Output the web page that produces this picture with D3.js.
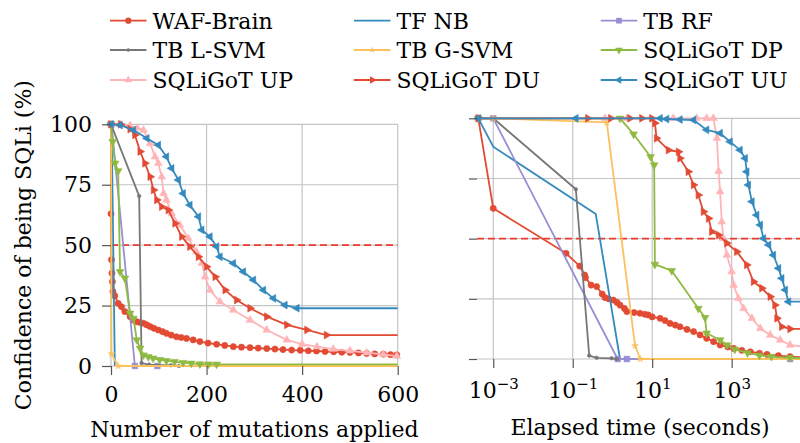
<!DOCTYPE html>
<html>
<head>
<meta charset="utf-8">
<script src="https://cdn.jsdelivr.net/npm/d3@7"></script>
<style>
  body { margin: 0; background: #fff; }
  svg { display: block; font-family: "DejaVu Serif", serif; }
</style>
</head>
<body>
<svg id="chart" width="800" height="443"></svg>
<script>
// Data: [mutations applied, confidence %]
const wafBrainByMutation = [[0,100],[0,63],[1,44],[2,38.4],[3,34.9],[4,30.8],[8,29],[15,25.9],[22,24.5],[29,22.5],[40,20.4],[47,19],[54,18.3],[61,18],[68,17.7],[75,17],[82,16.3],[90,15.6],[99,14.9],[108,14.2],[116,13.5],[126,12.8],[137,12.1],[147,11.8],[158,11.4],[172,10.8],[186,10.1],[203,9.5],[221,9],[238,8.5],[256,8],[273,7.8],[291,7.6],[308,7.4],[326,7.2],[343,7],[360,6.8],[378,6.6],[396,6.5],[413,6.3],[430,6.2],[448,6],[466,5.9],[483,5.7],[500,5.6],[518,5.4],[535,5.2],[552,5],[570,4.9],[585,4.7],[598,4.6]];
const tfNbByMutation = [[0,100],[2,88],[4,60],[8,0]];
const tbRfByMutation = [[0,100],[1,100],[50,0],[97,0]];
const tbLsvmByMutation = [[0,100],[59,70.3],[64,1.2],[80,0.6],[125,0.3],[142,0]];
const tbGsvmByMutation = [[0,100],[1,5],[15,0],[600,0]];
const sqligotDpByMutation = [[0,100],[3.5,92.8],[8.4,83.9],[15,80.7],[19,39],[29,36.3],[40,21.8],[47,19.7],[54,10.8],[61,7.3],[68,4.5],[78,3.8],[88,3.2],[102,2.6],[116,2.2],[133,1.8],[151,1.4],[168,1.1],[186,0.8],[204,0.75],[221,0.7],[600,0.7]];
const sqligotUpByMutation = [[0,100],[19,100],[40,99.5],[55,98.5],[68,97.6],[82,92.1],[92,86.6],[99,83.9],[106,78.3],[110,71.4],[116,68.7],[127,63.2],[144,58.3],[162,52.8],[179,47.3],[190,42.5],[197,36.9],[207,31.4],[228,26.6],[256,23.2],[291,19],[326,14.9],[368,10.8],[400,9],[431,8],[465,7],[500,6.3],[535,5.5],[570,4.8],[598,4.1]];
const sqligotDuByMutation = [[0,100],[20,100],[40,98],[50,95.6],[61,88.7],[71,83.9],[82,78.3],[89,72.8],[96,68.7],[106,65.9],[120,64.5],[134,59],[148,53.5],[165,49.4],[183,45.2],[200,41.1],[218,36.9],[239,31.4],[263,27.3],[291,23.9],[326,20.4],[368,17],[410,14.9],[451,12.8],[600,12.8]];
const sqligotUuByMutation = [[0,100],[19,99.7],[47,97.6],[75,94.2],[99,91.4],[116,86.6],[127,81.8],[141,77],[151,71.4],[165,66.6],[183,61.8],[190,56.3],[207,53.5],[221,49.4],[228,45.2],[256,42.5],[277,39],[298,35.6],[319,31.4],[340,28],[364,25.2],[389,23.9],[600,23.9]];

// Data: [elapsed seconds, confidence %]
const wafBrainByTime = [[0.00042,100],[0.001,62.6],[0.068,43.9],[0.15,38.6],[0.2,34.9],[0.21,33.8],[0.29,30.7],[0.4,30.1],[0.55,27],[0.65,25.5],[0.8,25],[1.05,24.5],[1.3,23.5],[1.55,22.4],[2,21],[2.3,19.7],[3.5,19.3],[4.9,19],[6.5,18.6],[7.9,18.3],[10,17.5],[15.8,16.9],[21,16],[28,14.8],[38,14.1],[50,13.4],[75,12.3],[110,11.4],[160,10],[234,8.6],[350,7.2],[513,5.8],[800,5],[1122,4.4],[1800,3.6],[2951,3],[5000,2.4],[7762,1.9],[15000,1.4],[29500,1],[65000,0.7]];
const tfNbByTime = [[0.00042,100],[0.001,88.2],[0.38,60.2],[1.55,0]];
const tbRfByTime = [[0.00042,100],[0.001,100],[1.35,0],[2.3,0],[29500,0]];
const tbLsvmByTime = [[0.00042,100],[0.001,100],[0.12,70.5],[0.26,1.4],[0.4,0.5],[0.95,0.3],[1.3,0]];
const tbGsvmByTime = [[0.00042,100],[0.001,100],[0.72,98.3],[3.7,5.5],[5,0],[65000,0]];
const sqligotDpByTime = [[0.00042,100],[1.55,100],[3.4,93.4],[9.1,84],[11.2,80.6],[11.7,39.3],[31,36.7],[145,21],[214,17.2],[234,10.7],[513,7.9],[759,5.8],[1200,4],[2500,2.5],[5000,1.5],[10000,1],[29500,0.5],[65000,0.5]];
const sqligotUpByTime = [[0.00042,100],[0.65,100],[2.3,100],[34,100],[132,100],[234,100],[347,100],[427,91.7],[468,78],[513,69.5],[562,57],[617,50.1],[759,43.2],[1000,36.3],[1122,30.7],[1479,25.2],[1995,21],[3236,16.9],[5248,12.7],[9333,10],[16600,7.9],[29500,5.8],[65000,5.1]];
const sqligotDuByTime = [[0.00042,100],[0.24,100],[0.91,100],[2.75,100],[5.5,100],[9.8,100],[11.7,98],[12.9,91.7],[25.7,86.8],[46,86.1],[50,83.4],[81,77.8],[110,72.3],[145,68.1],[195,61.2],[263,58.4],[316,52.9],[468,51.5],[759,48.1],[1349,44.6],[2399,39.1],[3548,32.1],[5754,29.4],[9333,25.9],[12300,22.4],[13800,16.9],[18200,13.4],[29500,12.5],[65000,12.5]];
const sqligotUuByTime = [[0.00042,100],[0.12,100],[15.8,100],[23,99.7],[50,99.5],[110,99.3],[234,95.2],[513,93.8],[912,90.3],[1622,86.8],[2188,83.4],[2399,77.8],[2630,72.3],[3236,65.4],[4266,59.8],[5248,55.7],[6310,50.1],[8511,47.4],[11220,43.2],[15140,37.7],[18200,33.5],[22400,28.7],[26900,23.8],[65000,23.8]];

const seriesNames = ["WAF-Brain", "TF NB", "TB RF", "TB L-SVM", "TB G-SVM", "SQLiGoT DP", "SQLiGoT UP", "SQLiGoT DU", "SQLiGoT UU"];
const mutationTicks = [0, 200, 400, 600];
const confidenceTicks = [0, 25, 50, 75, 100];
const timeTicks = [1e-3, 1e-1, 1e1, 1e3];
const timeTickExponents = ["\u22123", "\u22121", "1", "3"];
const threshold = 50;

// Styling for each series (ggplot colour cycle)
const seriesColors = ["#E24A33", "#348ABD", "#988ED5", "#777777", "#FBC15E", "#8EBA42", "#FFB5B8", "#E24A33", "#348ABD"];
const seriesMarkers = [
  { type: d3.symbolCircle, size: 30, rotate: 0 },
  null,
  { type: d3.symbolSquare, size: 32, rotate: 0 },
  { type: d3.symbolCircle, size: 10, rotate: 0 },
  { type: d3.symbolStar, size: 14, rotate: 0 },
  { type: d3.symbolTriangle, size: 26, rotate: 180 },
  { type: d3.symbolTriangle, size: 26, rotate: 0 },
  { type: d3.symbolTriangle, size: 26, rotate: 90 },
  { type: d3.symbolTriangle, size: 26, rotate: -90 },
];
const byMutation = [wafBrainByMutation, tfNbByMutation, tbRfByMutation, tbLsvmByMutation, tbGsvmByMutation, sqligotDpByMutation, sqligotUpByMutation, sqligotDuByMutation, sqligotUuByMutation];
const byTime = [wafBrainByTime, tfNbByTime, tbRfByTime, tbLsvmByTime, tbGsvmByTime, sqligotDpByTime, sqligotUpByTime, sqligotDuByTime, sqligotUuByTime];

const gridColor = "#c4c4c4";
const tickColor = "#555";
const fontSize = 22;
const fontFamily = "'DejaVu Serif', serif";

const svg = d3.select("#chart");

// Scales
const xMutation = d3.scaleLinear([0, 600], [111, 397.7]);
const yLeft = d3.scaleLinear([0, 100], [366, 124.3]);
const xTime = d3.scaleLog([3.9e-4, 6.5e4], [477, 803.7]);
const yRight = d3.scaleLinear([0, 100], [359, 118.3]);

function drawPanel(g, xScale, yScale, xTicks, data, xEnd) {
  const [x0, x1] = xScale.range();
  const [y0, y1] = yScale.range();

  // grid
  g.append("g")
    .selectAll("line")
    .data(confidenceTicks)
    .join("line")
    .attr("x1", x0).attr("x2", x1)
    .attr("y1", (d) => yScale(d)).attr("y2", (d) => yScale(d))
    .attr("stroke", gridColor).attr("stroke-width", 1.2);
  g.append("g")
    .selectAll("line")
    .data(xTicks)
    .join("line")
    .attr("x1", (d) => xScale(d)).attr("x2", (d) => xScale(d))
    .attr("y1", y0).attr("y2", y1)
    .attr("stroke", gridColor).attr("stroke-width", 1.2);

  // threshold
  g.append("line")
    .attr("x1", x0).attr("x2", x1)
    .attr("y1", yScale(threshold)).attr("y2", yScale(threshold))
    .attr("stroke", "#ee3b30").attr("stroke-width", 1.6)
    .attr("stroke-dasharray", "7,4");

  const line = d3.line().x((d) => xScale(d[0])).y((d) => yScale(d[1]));

  data.forEach((arr, i) => {
    g.append("path")
      .datum(arr)
      .attr("fill", "none")
      .attr("stroke", seriesColors[i])
      .attr("stroke-width", 1.8)
      .attr("stroke-linejoin", "round")
      .attr("d", line);
    const m = seriesMarkers[i];
    if (!m) return;
    const sym = d3.symbol(m.type, m.size);
    g.append("g")
      .selectAll("path")
      .data(arr.filter((d) => d[0] < xEnd))
      .join("path")
      .attr("d", sym)
      .attr("fill", seriesColors[i])
      .attr("stroke", seriesColors[i])
      .attr("stroke-width", 0.6)
      .attr("transform", (d) => `translate(${xScale(d[0])},${yScale(d[1])}) rotate(${m.rotate})`);
  });
}

function styleAxis(g) {
  g.call((s) => s.select(".domain").remove());
  g.selectAll(".tick line").attr("stroke", tickColor).attr("stroke-width", 1.2);
  g.selectAll(".tick text")
    .attr("fill", "#000")
    .style("font-size", `${fontSize}px`)
    .style("font-family", fontFamily);
}

// Left panel
const left = svg.append("g");
drawPanel(left, xMutation, yLeft, mutationTicks, byMutation, 600);

left.append("g")
  .attr("transform", `translate(${xMutation(0)},0)`)
  .call(d3.axisLeft(yLeft).tickValues(confidenceTicks).tickSize(9).tickPadding(10))
  .call(styleAxis);

left.append("g")
  .attr("transform", `translate(0,${yLeft(0)})`)
  .call(d3.axisBottom(xMutation).tickValues(mutationTicks).tickSize(9).tickPadding(11))
  .call(styleAxis);

left.append("text")
  .attr("x", (xMutation.range()[0] + xMutation.range()[1]) / 2)
  .attr("y", 437)
  .attr("text-anchor", "middle")
  .style("font-size", `${fontSize}px`)
  .text("Number of mutations applied");

svg.append("text")
  .attr("transform", `translate(31,${(yLeft(0) + yLeft(100)) / 2}) rotate(-90)`)
  .attr("text-anchor", "middle")
  .style("font-size", `${fontSize}px`)
  .text("Confidence of being SQLi (%)");

// Right panel
const right = svg.append("g");
drawPanel(right, xTime, yRight, timeTicks, byTime, 60000);

right.append("g")
  .attr("transform", `translate(${xTime.range()[0]},0)`)
  .call(d3.axisLeft(yRight).tickValues(confidenceTicks).tickSize(8).tickFormat(""))
  .call(styleAxis);

const rightX = right.append("g")
  .attr("transform", `translate(0,${yRight(0)})`)
  .call(d3.axisBottom(xTime).tickValues(timeTicks).tickSize(9).tickFormat(""))
  .call(styleAxis);

rightX.selectAll(".tick")
  .append("text")
  .attr("y", 39)
  .attr("text-anchor", "middle")
  .attr("fill", "#000")
  .style("font-size", `${fontSize}px`)
  .style("font-family", fontFamily)
  .each(function (d, i) {
    const t = d3.select(this);
    t.append("tspan").text("10");
    t.append("tspan")
      .attr("dy", -9)
      .style("font-size", "15px")
      .text(timeTickExponents[i]);
  });

right.append("text")
  .attr("x", 640)
  .attr("y", 435)
  .attr("text-anchor", "middle")
  .style("font-size", `${fontSize}px`)
  .text("Elapsed time (seconds)");

// Legend
const legendCols = [110, 354, 600.7];
const legendRows = [20.7, 50, 80];
const legend = svg.append("g");
seriesNames.forEach((name, i) => {
  const lx = legendCols[i % 3];
  const ly = legendRows[Math.floor(i / 3)];
  const item = legend.append("g").attr("transform", `translate(${lx},${ly})`);
  item.append("line")
    .attr("x1", 0).attr("x2", 36.5)
    .attr("stroke", seriesColors[i]).attr("stroke-width", 1.8);
  const m = seriesMarkers[i];
  if (m) {
    item.append("path")
      .attr("d", d3.symbol(m.type, m.size)())
      .attr("fill", seriesColors[i])
      .attr("transform", `translate(18.3,0) rotate(${m.rotate})`);
  }
  item.append("text")
    .attr("x", 42.5)
    .attr("y", 8)
    .style("font-size", `${fontSize}px`)
    .text(name);
});
</script>
</body>
</html>
